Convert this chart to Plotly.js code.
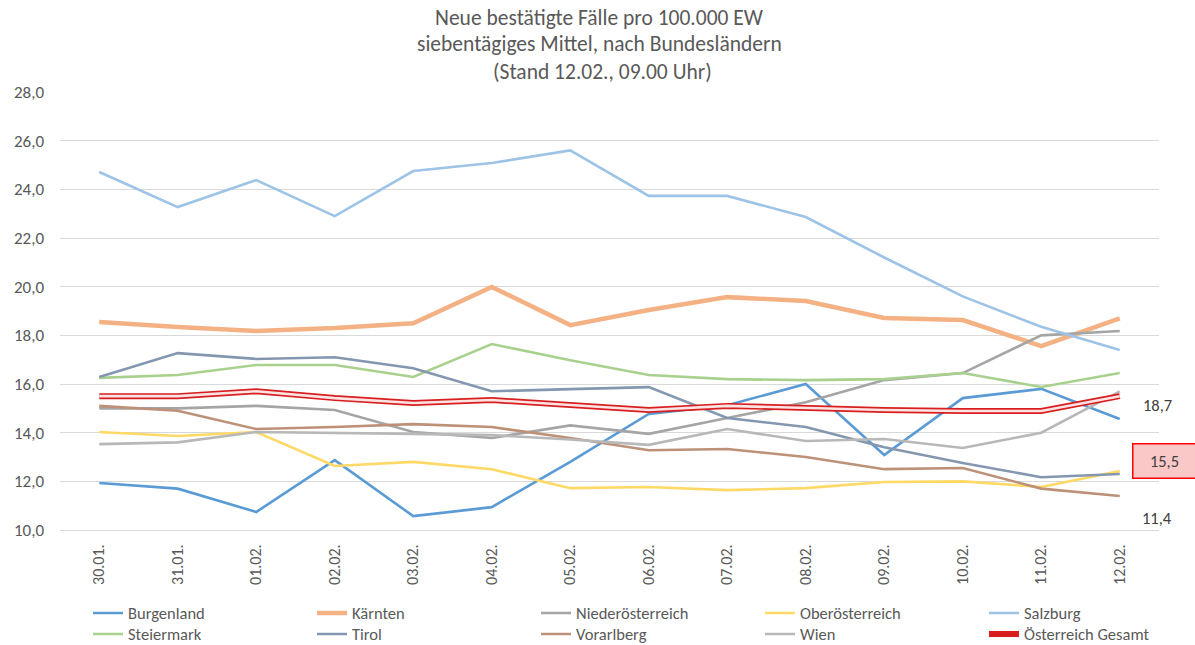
<!DOCTYPE html>
<html>
<head>
<meta charset="utf-8">
<script src="https://cdn.plot.ly/plotly-3.0.1.min.js"></script>
<style>html,body{margin:0;padding:0;background:#fff;}#chart{width:1195px;height:645px;}</style>
</head>
<body>
<div id="chart"></div>
<script>
const dates = ["30.01.","31.01.","01.02.","02.02.","03.02.","04.02.","05.02.","06.02.","07.02.","08.02.","09.02.","10.02.","11.02.","12.02."];

const burgenland       = [11.93, 11.70, 10.74, 12.87, 10.57, 10.94, 12.80, 14.77, 15.13, 16.00, 13.08, 15.42, 15.80, 14.56];
const kaernten         = [18.55, 18.34, 18.18, 18.30, 18.50, 19.99, 18.42, 19.04, 19.57, 19.41, 18.71, 18.63, 17.56, 18.70];
const niederoesterreich= [15.00, 15.00, 15.10, 14.93, 14.03, 13.78, 14.30, 13.95, 14.60, 15.25, 16.16, 16.45, 18.00, 18.18];
const oberoesterreich  = [14.03, 13.86, 14.03, 12.63, 12.80, 12.50, 11.72, 11.77, 11.64, 11.72, 11.97, 12.00, 11.77, 12.42];
const salzburg         = [24.71, 23.27, 24.38, 22.90, 24.75, 25.08, 25.60, 23.73, 23.73, 22.86, 21.20, 19.60, 18.35, 17.40];
const steiermark       = [16.25, 16.37, 16.78, 16.78, 16.29, 17.64, 16.98, 16.37, 16.20, 16.16, 16.20, 16.45, 15.88, 16.45];
const tirol            = [16.29, 17.27, 17.03, 17.10, 16.65, 15.70, 15.79, 15.87, 14.60, 14.23, 13.40, 12.75, 12.17, 12.30];
const vorarlberg       = [15.10, 14.90, 14.15, 14.23, 14.35, 14.23, 13.78, 13.28, 13.33, 13.00, 12.50, 12.55, 11.70, 11.40];
const wien             = [13.53, 13.60, 14.03, 14.00, 13.95, 13.90, 13.72, 13.50, 14.15, 13.66, 13.74, 13.37, 14.00, 15.70];
const oesterreich      = [15.50, 15.50, 15.70, 15.42, 15.22, 15.34, 15.14, 14.93, 15.10, 15.00, 14.93, 14.89, 14.89, 15.50];

const FONT = "Carlito, Calibri, 'Liberation Sans Narrow', 'Open Sans', sans-serif";
const TXT = "#595959";

function line(name, y, color, width, leg) {
  return {type: "scatter", mode: "lines", name: name, x: dates, y: y,
          line: {color: color, width: width}, hoverinfo: "skip", legend: leg};
}

const traces = [
  line("Burgenland", burgenland, "#5B9BD5", 2.6, "legend"),
  line("Kärnten", kaernten, "#F4B183", 4.5, "legend"),
  line("Niederösterreich", niederoesterreich, "#A5A5A5", 2.6, "legend"),
  line("Oberösterreich", oberoesterreich, "#FFD966", 2.6, "legend"),
  line("Salzburg", salzburg, "#9DC3E6", 2.6, "legend"),
  line("Steiermark", steiermark, "#A9D18E", 2.6, "legend2"),
  line("Tirol", tirol, "#8497B0", 2.6, "legend2"),
  line("Vorarlberg", vorarlberg, "#BC9178", 2.6, "legend2"),
  line("Wien", wien, "#B8B8B8", 2.6, "legend2"),
  line("Österreich Gesamt", oesterreich, "#D81E1E", 6, "legend2"),
  Object.assign(line("Österreich Gesamt", oesterreich, "#FCE4E4", 2.6, "legend2"), {showlegend: false})
];

function fmt(v) { return v.toFixed(1).replace(".", ","); }
const last = dates.length - 1;

const legendBase = {orientation: "h", x: 1.0446, xanchor: "right", yanchor: "top",
  entrywidth: 179, entrywidthmode: "pixels", traceorder: "normal",
  font: {family: FONT, size: 16.5, color: TXT}, bgcolor: "rgba(0,0,0,0)"};

const layout = {
  width: 1195, height: 645,
  margin: {l: 60, r: 36, t: 92, b: 115, autoexpand: false},
  paper_bgcolor: "#fff", plot_bgcolor: "#fff",
  font: {family: FONT, color: TXT, size: 16},
  separators: ",.",
  title: {text: "Neue bestätigte Fälle pro 100.000 EW", font: {family: FONT, size: 21.5, color: TXT},
          x: (599-60)/1099, xanchor: "center", xref: "paper", y: 1 - 17/645, yanchor: "middle"},
  showlegend: true,
  legend: Object.assign({}, legendBase, {y: (530 - 595.8)/438}),
  legend2: Object.assign({}, legendBase, {y: (530 - 616.8)/438}),
  xaxis: {type: "category", range: [-0.5, dates.length - 0.5], showgrid: false, zeroline: false,
          showline: true, linecolor: "#D9D9D9", linewidth: 1, ticks: "", tickangle: -90,
          ticklabelstandoff: 7, tickfont: {family: FONT, size: 16, color: TXT}, fixedrange: true},
  yaxis: {range: [10, 28], dtick: 2, tick0: 10, tickformat: ".1f", showgrid: true, gridcolor: "#D9D9D9",
          gridwidth: 1, zeroline: false, showline: false, ticks: "", ticklabelstandoff: 15,
          tickfont: {family: FONT, size: 17, color: TXT}, fixedrange: true},
  annotations: [
    {text: "siebentägiges Mittel, nach Bundesländern", xref: "paper", yref: "paper", x: (599-60)/1099, y: (530-44)/438,
     xanchor: "center", yanchor: "middle", showarrow: false, font: {family: FONT, size: 21.5, color: TXT}},
    {text: "(Stand 12.02., 09.00 Uhr)", xref: "paper", yref: "paper", x: (602-60)/1099, y: (530-72)/438,
     xanchor: "center", yanchor: "middle", showarrow: false, font: {family: FONT, size: 21.5, color: TXT}},
    {text: fmt(kaernten[last]), xref: "paper", yref: "paper", x: (1157-60)/1099, y: (530-405)/438,
     xanchor: "center", yanchor: "middle", showarrow: false, font: {family: FONT, size: 16.5, color: "#404040"}},
    {text: fmt(oesterreich[last]), xref: "paper", yref: "paper", x: (1132-60)/1099, y: (530-461)/438,
     xanchor: "left", yanchor: "middle", showarrow: false, width: 56, height: 27, borderpad: 3,
     bgcolor: "#FBC8C8", bordercolor: "#FF0000", borderwidth: 1.5,
     font: {family: FONT, size: 16.5, color: "#404040"}},
    {text: fmt(vorarlberg[last]), xref: "paper", yref: "paper", x: (1157-60)/1099, y: (530-518)/438,
     xanchor: "center", yanchor: "middle", showarrow: false, font: {family: FONT, size: 16.5, color: "#404040"}}
  ]
};

Plotly.newPlot("chart", traces, layout, {displayModeBar: false, staticPlot: true});
</script>
</body>
</html>
